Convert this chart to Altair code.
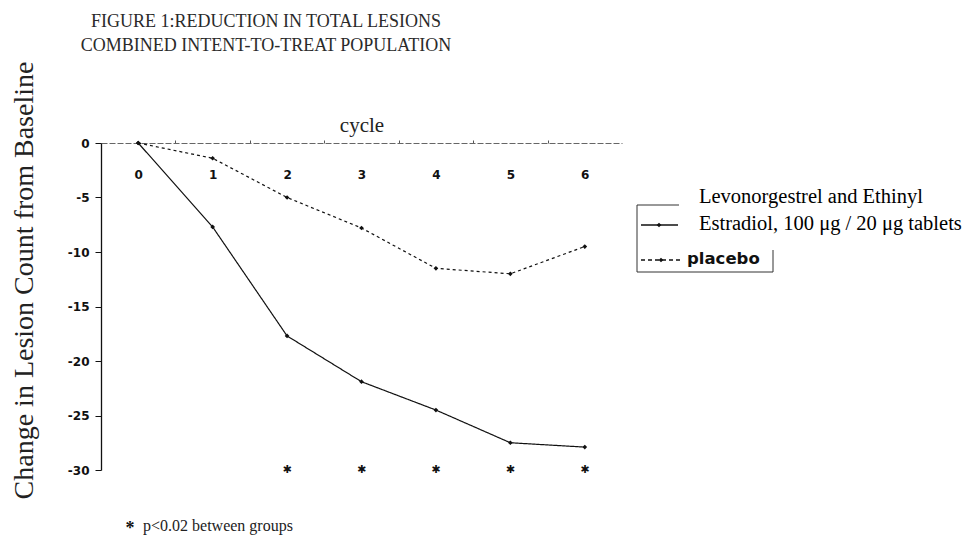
import altair as alt
import pandas as pd

# ---- data ----
cycles = [0, 1, 2, 3, 4, 5, 6]
lng_values = [0, -7.7, -17.7, -21.9, -24.5, -27.5, -27.9]
placebo_values = [0, -1.4, -5.0, -7.8, -11.5, -12.0, -9.5]
series_names = ["Levonorgestrel and Ethinyl Estradiol", "placebo"]
sig_cycles = [2, 3, 4, 5, 6]
sig_level = [-30, -30, -30, -30, -30]
y_ticks = [0, -5, -10, -15, -20, -25, -30]
x_ticks = [0, 0.5, 1, 1.5, 2, 2.5, 3, 3.5, 4, 4.5, 5, 5.5, 6]
title_lines = ["FIGURE 1:REDUCTION IN TOTAL LESIONS", "COMBINED INTENT-TO-TREAT POPULATION"]
legend_lines = ["Levonorgestrel and Ethinyl", "Estradiol, 100 \u03bcg / 20 \u03bcg tablets"]
placebo_label = "placebo"
footnote_text = "p<0.02 between groups"
y_title = "Change in Lesion Count from Baseline"
x_title = "cycle"

rows = []
for c, v in zip(cycles, lng_values):
    rows.append({"cycle": c, "change": v, "series": series_names[0]})
for c, v in zip(cycles, placebo_values):
    rows.append({"cycle": c, "change": v, "series": series_names[1]})
df = pd.DataFrame(rows)
sig_df = pd.DataFrame({"cycle": sig_cycles, "change": sig_level})
one = pd.DataFrame({"k": [0]})

W, H = 521, 327
SERIF = "Liberation Serif"
x_scale = alt.Scale(domain=[-0.5, 6.5], nice=False, zero=False)
y_scale = alt.Scale(domain=[-30, 0], nice=False, zero=False)

x_axis = alt.Axis(
    orient="top", values=x_ticks,
    labelExpr="datum.value % 1 == 0 ? '' + datum.value : ''",
    tickOpacity={"condition": {"test": "datum.value % 1 == 0", "value": 0}, "value": 1},
    tickSize=3, tickColor="#555",
    labelPadding=-38, labelBaseline="alphabetic", labelFlush=False, labelOverlap=False,
    labelFont="DejaVu Sans", labelFontWeight="bold", labelFontSize=12, labelColor="#111",
    domainColor="#666", domainDash=[6, 2], domainWidth=1,
    grid=False,
    title=x_title, titleFont=SERIF, titleFontSize=21, titleFontWeight="normal",
    titleColor="#222", titleY=-12, titleBaseline="alphabetic",
)
y_axis = alt.Axis(
    orient="left", values=y_ticks,
    labelExpr="'' + datum.value",
    labelFont="DejaVu Sans", labelFontWeight="bold", labelFontSize=12, labelColor="#111",
    labelPadding=6, tickSize=6, tickColor="#111", domainColor="#111", domainWidth=1.3,
    grid=False,
    title=y_title, titleFont=SERIF, titleFontSize=28, titleFontWeight="normal",
    titleColor="#222", titleAngle=270, titleX=-77, titleY=137,
    titleBaseline="middle", titleAlign="center",
)

base = alt.Chart(df)
lines = base.mark_line(color="#111", strokeWidth=1.2).encode(
    x=alt.X("cycle:Q", scale=x_scale, axis=x_axis),
    y=alt.Y("change:Q", scale=y_scale, axis=y_axis),
    strokeDash=alt.StrokeDash("series:N", scale=alt.Scale(domain=series_names, range=[[1, 0], [3, 3]]), legend=None),
    detail="series:N",
)
points = base.mark_point(filled=True, shape="diamond", size=22, color="#111", opacity=1).encode(
    x=alt.X("cycle:Q", scale=x_scale),
    y=alt.Y("change:Q", scale=y_scale),
)
stars = alt.Chart(sig_df).mark_text(text="\u2731", font="DejaVu Sans", fontSize=11, baseline="middle", color="#111").encode(
    x=alt.X("cycle:Q", scale=x_scale),
    y=alt.Y("change:Q", scale=y_scale),
)

title = alt.Chart(one).mark_text(font=SERIF, fontSize=18, color="#2a2a2a", baseline="middle", align="center", lineHeight=24).encode(
    x=alt.value(165), y=alt.value(-121), text=alt.value(title_lines)
)

# legend (manual, mimicking the partially covered box)
def seg(x1, x2, y1, y2, dash=None, w=1.0, color="#333"):
    kw = dict(color=color, strokeWidth=w)
    if dash:
        kw["strokeDash"] = dash
    return alt.Chart(one).mark_rule(**kw).encode(
        x=alt.value(x1), x2=alt.value(x2), y=alt.value(y1), y2=alt.value(y2)
    )

legend_parts = [
    seg(536, 578, 62, 62),
    seg(536, 536, 62, 129),
    seg(536, 672, 129, 129),
    seg(672, 672, 107, 129),
    seg(540, 577, 82, 82, w=1.3, color="#111"),
    seg(540, 580, 117, 117, dash=[4, 3], w=1.3, color="#111"),
    alt.Chart(one).mark_point(filled=True, shape="diamond", size=22, color="#111", opacity=1).encode(
        x=alt.value(558), y=alt.value(82)),
    alt.Chart(one).mark_point(filled=True, shape="diamond", size=22, color="#111", opacity=1).encode(
        x=alt.value(560), y=alt.value(117)),
    alt.Chart(one).mark_text(font="DejaVu Sans", fontWeight="bold", fontSize=16.5, color="#111",
                             align="left", baseline="alphabetic").encode(
        x=alt.value(586), y=alt.value(121), text=alt.value(placebo_label)),
    alt.Chart(one).mark_text(font=SERIF, fontSize=20.5, color="#000", align="left",
                             baseline="middle", lineHeight=27).encode(
        x=alt.value(598), y=alt.value(54), text=alt.value(legend_lines)),
]

foot_star = alt.Chart(one).mark_text(font=SERIF, fontWeight="bold", fontSize=18, color="#111",
                                     align="center", baseline="alphabetic").encode(
    x=alt.value(29), y=alt.value(391), text=alt.value("*"))
foot = alt.Chart(one).mark_text(font=SERIF, fontSize=16, color="#222", align="left",
                                baseline="alphabetic").encode(
    x=alt.value(42), y=alt.value(388), text=alt.value(footnote_text))

chart = alt.layer(lines, points, stars, title, *legend_parts, foot_star, foot).properties(
    width=W, height=H,
    padding={"left": 93, "top": 135, "right": 347, "bottom": 67},
    autosize=alt.AutoSizeParams(type="none"),
    background="white",
).configure_view(stroke=None)

chart.save("out.html", embed_options={"renderer": "svg", "actions": False})
